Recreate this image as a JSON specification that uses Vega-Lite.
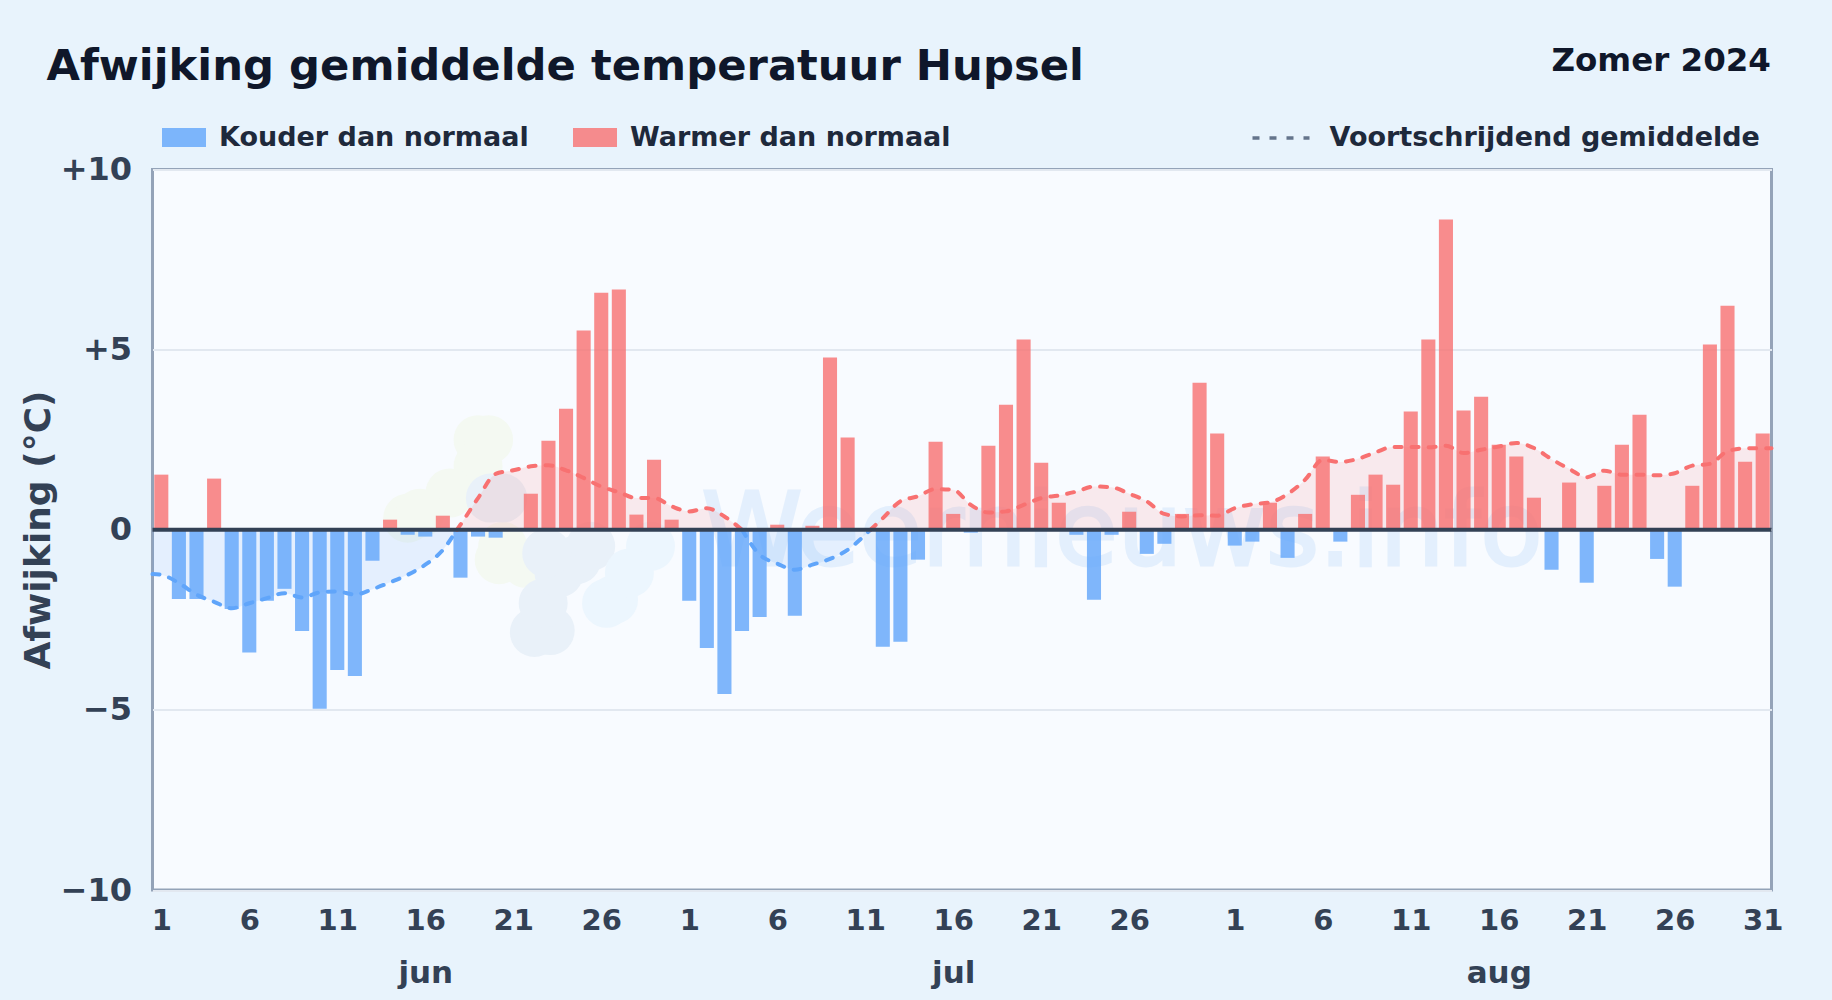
{"$schema":"https://vega.github.io/schema/vega-lite/v6.json","autosize":{"type":"none"},"padding":{"left":152.5,"top":169.5,"right":60.5,"bottom":110},"width":1619,"height":720.5,"background":"#e8f3fc","view":{"fill":"#f8fbff","stroke":"#94a3b8","strokeWidth":3},"config":{"font":"DejaVu Sans","axisY":{"labelFont":"DejaVu Sans","labelFontSize":32,"labelFontWeight":"bold","labelColor":"#334155","labelPadding":21,"ticks":false,"domain":false,"grid":true,"gridColor":"#e2e8f0","gridWidth":2,"titleFont":"DejaVu Sans","titleFontSize":36,"titleFontWeight":"bold","titleColor":"#334155","titleX":-114,"titleY":360,"titleAlign":"center","titleBaseline":"middle"},"legend":{"labelFont":"DejaVu Sans","labelFontSize":27,"labelFontWeight":"bold","labelColor":"#1e293b","labelLimit":700}},"title":{"text":"Afwijking gemiddelde temperatuur Hupsel","anchor":"start","frame":"group","dx":-106,"offset":-79,"baseline":"alphabetic","font":"DejaVu Sans","fontSize":43.3,"fontWeight":"bold","color":"#0f172a"},"datasets":{"days":[{"day":1,"date":"2024-06-01","value":1.53,"type":"Warmer dan normaal"},{"day":2,"date":"2024-06-02","value":-1.92,"type":"Kouder dan normaal"},{"day":3,"date":"2024-06-03","value":-1.92,"type":"Kouder dan normaal"},{"day":4,"date":"2024-06-04","value":1.42,"type":"Warmer dan normaal"},{"day":5,"date":"2024-06-05","value":-2.2,"type":"Kouder dan normaal"},{"day":6,"date":"2024-06-06","value":-3.41,"type":"Kouder dan normaal"},{"day":7,"date":"2024-06-07","value":-1.97,"type":"Kouder dan normaal"},{"day":8,"date":"2024-06-08","value":-1.64,"type":"Kouder dan normaal"},{"day":9,"date":"2024-06-09","value":-2.81,"type":"Kouder dan normaal"},{"day":10,"date":"2024-06-10","value":-4.97,"type":"Kouder dan normaal"},{"day":11,"date":"2024-06-11","value":-3.89,"type":"Kouder dan normaal"},{"day":12,"date":"2024-06-12","value":-4.06,"type":"Kouder dan normaal"},{"day":13,"date":"2024-06-13","value":-0.86,"type":"Kouder dan normaal"},{"day":14,"date":"2024-06-14","value":0.28,"type":"Warmer dan normaal"},{"day":15,"date":"2024-06-15","value":-0.14,"type":"Kouder dan normaal"},{"day":16,"date":"2024-06-16","value":-0.19,"type":"Kouder dan normaal"},{"day":17,"date":"2024-06-17","value":0.39,"type":"Warmer dan normaal"},{"day":18,"date":"2024-06-18","value":-1.33,"type":"Kouder dan normaal"},{"day":19,"date":"2024-06-19","value":-0.19,"type":"Kouder dan normaal"},{"day":20,"date":"2024-06-20","value":-0.22,"type":"Kouder dan normaal"},{"day":21,"date":"2024-06-21","value":0,"type":"Warmer dan normaal"},{"day":22,"date":"2024-06-22","value":1.0,"type":"Warmer dan normaal"},{"day":23,"date":"2024-06-23","value":2.47,"type":"Warmer dan normaal"},{"day":24,"date":"2024-06-24","value":3.36,"type":"Warmer dan normaal"},{"day":25,"date":"2024-06-25","value":5.53,"type":"Warmer dan normaal"},{"day":26,"date":"2024-06-26","value":6.58,"type":"Warmer dan normaal"},{"day":27,"date":"2024-06-27","value":6.67,"type":"Warmer dan normaal"},{"day":28,"date":"2024-06-28","value":0.42,"type":"Warmer dan normaal"},{"day":29,"date":"2024-06-29","value":1.94,"type":"Warmer dan normaal"},{"day":30,"date":"2024-06-30","value":0.28,"type":"Warmer dan normaal"},{"day":31,"date":"2024-07-01","value":-1.97,"type":"Kouder dan normaal"},{"day":32,"date":"2024-07-02","value":-3.28,"type":"Kouder dan normaal"},{"day":33,"date":"2024-07-03","value":-4.56,"type":"Kouder dan normaal"},{"day":34,"date":"2024-07-04","value":-2.81,"type":"Kouder dan normaal"},{"day":35,"date":"2024-07-05","value":-2.42,"type":"Kouder dan normaal"},{"day":36,"date":"2024-07-06","value":0.14,"type":"Warmer dan normaal"},{"day":37,"date":"2024-07-07","value":-2.39,"type":"Kouder dan normaal"},{"day":38,"date":"2024-07-08","value":0.11,"type":"Warmer dan normaal"},{"day":39,"date":"2024-07-09","value":4.78,"type":"Warmer dan normaal"},{"day":40,"date":"2024-07-10","value":2.56,"type":"Warmer dan normaal"},{"day":41,"date":"2024-07-11","value":0,"type":"Warmer dan normaal"},{"day":42,"date":"2024-07-12","value":-3.25,"type":"Kouder dan normaal"},{"day":43,"date":"2024-07-13","value":-3.11,"type":"Kouder dan normaal"},{"day":44,"date":"2024-07-14","value":-0.83,"type":"Kouder dan normaal"},{"day":45,"date":"2024-07-15","value":2.44,"type":"Warmer dan normaal"},{"day":46,"date":"2024-07-16","value":0.44,"type":"Warmer dan normaal"},{"day":47,"date":"2024-07-17","value":-0.08,"type":"Kouder dan normaal"},{"day":48,"date":"2024-07-18","value":2.33,"type":"Warmer dan normaal"},{"day":49,"date":"2024-07-19","value":3.47,"type":"Warmer dan normaal"},{"day":50,"date":"2024-07-20","value":5.28,"type":"Warmer dan normaal"},{"day":51,"date":"2024-07-21","value":1.86,"type":"Warmer dan normaal"},{"day":52,"date":"2024-07-22","value":0.75,"type":"Warmer dan normaal"},{"day":53,"date":"2024-07-23","value":-0.14,"type":"Kouder dan normaal"},{"day":54,"date":"2024-07-24","value":-1.94,"type":"Kouder dan normaal"},{"day":55,"date":"2024-07-25","value":-0.14,"type":"Kouder dan normaal"},{"day":56,"date":"2024-07-26","value":0.5,"type":"Warmer dan normaal"},{"day":57,"date":"2024-07-27","value":-0.67,"type":"Kouder dan normaal"},{"day":58,"date":"2024-07-28","value":-0.39,"type":"Kouder dan normaal"},{"day":59,"date":"2024-07-29","value":0.44,"type":"Warmer dan normaal"},{"day":60,"date":"2024-07-30","value":4.08,"type":"Warmer dan normaal"},{"day":61,"date":"2024-07-31","value":2.67,"type":"Warmer dan normaal"},{"day":62,"date":"2024-08-01","value":-0.44,"type":"Kouder dan normaal"},{"day":63,"date":"2024-08-02","value":-0.33,"type":"Kouder dan normaal"},{"day":64,"date":"2024-08-03","value":0.75,"type":"Warmer dan normaal"},{"day":65,"date":"2024-08-04","value":-0.78,"type":"Kouder dan normaal"},{"day":66,"date":"2024-08-05","value":0.44,"type":"Warmer dan normaal"},{"day":67,"date":"2024-08-06","value":2.03,"type":"Warmer dan normaal"},{"day":68,"date":"2024-08-07","value":-0.33,"type":"Kouder dan normaal"},{"day":69,"date":"2024-08-08","value":0.97,"type":"Warmer dan normaal"},{"day":70,"date":"2024-08-09","value":1.53,"type":"Warmer dan normaal"},{"day":71,"date":"2024-08-10","value":1.25,"type":"Warmer dan normaal"},{"day":72,"date":"2024-08-11","value":3.28,"type":"Warmer dan normaal"},{"day":73,"date":"2024-08-12","value":5.28,"type":"Warmer dan normaal"},{"day":74,"date":"2024-08-13","value":8.61,"type":"Warmer dan normaal"},{"day":75,"date":"2024-08-14","value":3.31,"type":"Warmer dan normaal"},{"day":76,"date":"2024-08-15","value":3.69,"type":"Warmer dan normaal"},{"day":77,"date":"2024-08-16","value":2.36,"type":"Warmer dan normaal"},{"day":78,"date":"2024-08-17","value":2.03,"type":"Warmer dan normaal"},{"day":79,"date":"2024-08-18","value":0.89,"type":"Warmer dan normaal"},{"day":80,"date":"2024-08-19","value":-1.11,"type":"Kouder dan normaal"},{"day":81,"date":"2024-08-20","value":1.31,"type":"Warmer dan normaal"},{"day":82,"date":"2024-08-21","value":-1.47,"type":"Kouder dan normaal"},{"day":83,"date":"2024-08-22","value":1.22,"type":"Warmer dan normaal"},{"day":84,"date":"2024-08-23","value":2.36,"type":"Warmer dan normaal"},{"day":85,"date":"2024-08-24","value":3.19,"type":"Warmer dan normaal"},{"day":86,"date":"2024-08-25","value":-0.81,"type":"Kouder dan normaal"},{"day":87,"date":"2024-08-26","value":-1.58,"type":"Kouder dan normaal"},{"day":88,"date":"2024-08-27","value":1.22,"type":"Warmer dan normaal"},{"day":89,"date":"2024-08-28","value":5.14,"type":"Warmer dan normaal"},{"day":90,"date":"2024-08-29","value":6.22,"type":"Warmer dan normaal"},{"day":91,"date":"2024-08-30","value":1.89,"type":"Warmer dan normaal"},{"day":92,"date":"2024-08-31","value":2.67,"type":"Warmer dan normaal"}],"ma":[{"seg":"a","type":"Kouder dan normaal","avg":"Voortschrijdend gemiddelde","day":0.5,"ma":-1.23},{"seg":"a","type":"Kouder dan normaal","avg":"Voortschrijdend gemiddelde","day":1,"ma":-1.25},{"seg":"a","type":"Kouder dan normaal","avg":"Voortschrijdend gemiddelde","day":2,"ma":-1.48},{"seg":"a","type":"Kouder dan normaal","avg":"Voortschrijdend gemiddelde","day":3,"ma":-1.8},{"seg":"a","type":"Kouder dan normaal","avg":"Voortschrijdend gemiddelde","day":4,"ma":-2.0},{"seg":"a","type":"Kouder dan normaal","avg":"Voortschrijdend gemiddelde","day":5,"ma":-2.18},{"seg":"a","type":"Kouder dan normaal","avg":"Voortschrijdend gemiddelde","day":6,"ma":-2.04},{"seg":"a","type":"Kouder dan normaal","avg":"Voortschrijdend gemiddelde","day":7,"ma":-1.9},{"seg":"a","type":"Kouder dan normaal","avg":"Voortschrijdend gemiddelde","day":8,"ma":-1.76},{"seg":"a","type":"Kouder dan normaal","avg":"Voortschrijdend gemiddelde","day":9,"ma":-1.88},{"seg":"a","type":"Kouder dan normaal","avg":"Voortschrijdend gemiddelde","day":10,"ma":-1.74},{"seg":"a","type":"Kouder dan normaal","avg":"Voortschrijdend gemiddelde","day":11,"ma":-1.71},{"seg":"a","type":"Kouder dan normaal","avg":"Voortschrijdend gemiddelde","day":12,"ma":-1.8},{"seg":"a","type":"Kouder dan normaal","avg":"Voortschrijdend gemiddelde","day":13,"ma":-1.65},{"seg":"a","type":"Kouder dan normaal","avg":"Voortschrijdend gemiddelde","day":14,"ma":-1.46},{"seg":"a","type":"Kouder dan normaal","avg":"Voortschrijdend gemiddelde","day":15,"ma":-1.25},{"seg":"a","type":"Kouder dan normaal","avg":"Voortschrijdend gemiddelde","day":16,"ma":-0.97},{"seg":"a","type":"Kouder dan normaal","avg":"Voortschrijdend gemiddelde","day":17,"ma":-0.56},{"seg":"a","type":"Kouder dan normaal","avg":"Voortschrijdend gemiddelde","day":17.8,"ma":0},{"seg":"b","type":"Warmer dan normaal","avg":"Voortschrijdend gemiddelde","day":17.8,"ma":0},{"seg":"b","type":"Warmer dan normaal","avg":"Voortschrijdend gemiddelde","day":18,"ma":0.14},{"seg":"b","type":"Warmer dan normaal","avg":"Voortschrijdend gemiddelde","day":19,"ma":0.88},{"seg":"b","type":"Warmer dan normaal","avg":"Voortschrijdend gemiddelde","day":20,"ma":1.55},{"seg":"b","type":"Warmer dan normaal","avg":"Voortschrijdend gemiddelde","day":21,"ma":1.65},{"seg":"b","type":"Warmer dan normaal","avg":"Voortschrijdend gemiddelde","day":22,"ma":1.76},{"seg":"b","type":"Warmer dan normaal","avg":"Voortschrijdend gemiddelde","day":23,"ma":1.79},{"seg":"b","type":"Warmer dan normaal","avg":"Voortschrijdend gemiddelde","day":24,"ma":1.65},{"seg":"b","type":"Warmer dan normaal","avg":"Voortschrijdend gemiddelde","day":25,"ma":1.44},{"seg":"b","type":"Warmer dan normaal","avg":"Voortschrijdend gemiddelde","day":26,"ma":1.2},{"seg":"b","type":"Warmer dan normaal","avg":"Voortschrijdend gemiddelde","day":27,"ma":1.04},{"seg":"b","type":"Warmer dan normaal","avg":"Voortschrijdend gemiddelde","day":28,"ma":0.88},{"seg":"b","type":"Warmer dan normaal","avg":"Voortschrijdend gemiddelde","day":29,"ma":0.88},{"seg":"b","type":"Warmer dan normaal","avg":"Voortschrijdend gemiddelde","day":30,"ma":0.65},{"seg":"b","type":"Warmer dan normaal","avg":"Voortschrijdend gemiddelde","day":31,"ma":0.51},{"seg":"b","type":"Warmer dan normaal","avg":"Voortschrijdend gemiddelde","day":32,"ma":0.6},{"seg":"b","type":"Warmer dan normaal","avg":"Voortschrijdend gemiddelde","day":33,"ma":0.37},{"seg":"b","type":"Warmer dan normaal","avg":"Voortschrijdend gemiddelde","day":34,"ma":0},{"seg":"c","type":"Kouder dan normaal","avg":"Voortschrijdend gemiddelde","day":34,"ma":0},{"seg":"c","type":"Kouder dan normaal","avg":"Voortschrijdend gemiddelde","day":35,"ma":-0.69},{"seg":"c","type":"Kouder dan normaal","avg":"Voortschrijdend gemiddelde","day":36,"ma":-0.94},{"seg":"c","type":"Kouder dan normaal","avg":"Voortschrijdend gemiddelde","day":37,"ma":-1.11},{"seg":"c","type":"Kouder dan normaal","avg":"Voortschrijdend gemiddelde","day":38,"ma":-0.97},{"seg":"c","type":"Kouder dan normaal","avg":"Voortschrijdend gemiddelde","day":39,"ma":-0.81},{"seg":"c","type":"Kouder dan normaal","avg":"Voortschrijdend gemiddelde","day":40,"ma":-0.56},{"seg":"c","type":"Kouder dan normaal","avg":"Voortschrijdend gemiddelde","day":41,"ma":-0.14},{"seg":"c","type":"Kouder dan normaal","avg":"Voortschrijdend gemiddelde","day":41.3,"ma":0},{"seg":"d","type":"Warmer dan normaal","avg":"Voortschrijdend gemiddelde","day":41.3,"ma":0},{"seg":"d","type":"Warmer dan normaal","avg":"Voortschrijdend gemiddelde","day":42,"ma":0.32},{"seg":"d","type":"Warmer dan normaal","avg":"Voortschrijdend gemiddelde","day":43,"ma":0.79},{"seg":"d","type":"Warmer dan normaal","avg":"Voortschrijdend gemiddelde","day":44,"ma":0.93},{"seg":"d","type":"Warmer dan normaal","avg":"Voortschrijdend gemiddelde","day":45,"ma":1.13},{"seg":"d","type":"Warmer dan normaal","avg":"Voortschrijdend gemiddelde","day":46,"ma":1.11},{"seg":"d","type":"Warmer dan normaal","avg":"Voortschrijdend gemiddelde","day":47,"ma":0.69},{"seg":"d","type":"Warmer dan normaal","avg":"Voortschrijdend gemiddelde","day":48,"ma":0.48},{"seg":"d","type":"Warmer dan normaal","avg":"Voortschrijdend gemiddelde","day":49,"ma":0.51},{"seg":"d","type":"Warmer dan normaal","avg":"Voortschrijdend gemiddelde","day":50,"ma":0.69},{"seg":"d","type":"Warmer dan normaal","avg":"Voortschrijdend gemiddelde","day":51,"ma":0.88},{"seg":"d","type":"Warmer dan normaal","avg":"Voortschrijdend gemiddelde","day":52,"ma":0.95},{"seg":"d","type":"Warmer dan normaal","avg":"Voortschrijdend gemiddelde","day":53,"ma":1.06},{"seg":"d","type":"Warmer dan normaal","avg":"Voortschrijdend gemiddelde","day":54,"ma":1.2},{"seg":"d","type":"Warmer dan normaal","avg":"Voortschrijdend gemiddelde","day":55,"ma":1.18},{"seg":"d","type":"Warmer dan normaal","avg":"Voortschrijdend gemiddelde","day":56,"ma":1.0},{"seg":"d","type":"Warmer dan normaal","avg":"Voortschrijdend gemiddelde","day":57,"ma":0.79},{"seg":"d","type":"Warmer dan normaal","avg":"Voortschrijdend gemiddelde","day":58,"ma":0.44},{"seg":"d","type":"Warmer dan normaal","avg":"Voortschrijdend gemiddelde","day":59,"ma":0.37},{"seg":"d","type":"Warmer dan normaal","avg":"Voortschrijdend gemiddelde","day":60,"ma":0.4},{"seg":"d","type":"Warmer dan normaal","avg":"Voortschrijdend gemiddelde","day":61,"ma":0.39},{"seg":"d","type":"Warmer dan normaal","avg":"Voortschrijdend gemiddelde","day":62,"ma":0.6},{"seg":"d","type":"Warmer dan normaal","avg":"Voortschrijdend gemiddelde","day":63,"ma":0.71},{"seg":"d","type":"Warmer dan normaal","avg":"Voortschrijdend gemiddelde","day":64,"ma":0.76},{"seg":"d","type":"Warmer dan normaal","avg":"Voortschrijdend gemiddelde","day":65,"ma":0.99},{"seg":"d","type":"Warmer dan normaal","avg":"Voortschrijdend gemiddelde","day":66,"ma":1.39},{"seg":"d","type":"Warmer dan normaal","avg":"Voortschrijdend gemiddelde","day":67,"ma":1.94},{"seg":"d","type":"Warmer dan normaal","avg":"Voortschrijdend gemiddelde","day":68,"ma":1.88},{"seg":"d","type":"Warmer dan normaal","avg":"Voortschrijdend gemiddelde","day":69,"ma":1.97},{"seg":"d","type":"Warmer dan normaal","avg":"Voortschrijdend gemiddelde","day":70,"ma":2.15},{"seg":"d","type":"Warmer dan normaal","avg":"Voortschrijdend gemiddelde","day":71,"ma":2.3},{"seg":"d","type":"Warmer dan normaal","avg":"Voortschrijdend gemiddelde","day":72,"ma":2.3},{"seg":"d","type":"Warmer dan normaal","avg":"Voortschrijdend gemiddelde","day":73,"ma":2.29},{"seg":"d","type":"Warmer dan normaal","avg":"Voortschrijdend gemiddelde","day":74,"ma":2.33},{"seg":"d","type":"Warmer dan normaal","avg":"Voortschrijdend gemiddelde","day":75,"ma":2.13},{"seg":"d","type":"Warmer dan normaal","avg":"Voortschrijdend gemiddelde","day":76,"ma":2.22},{"seg":"d","type":"Warmer dan normaal","avg":"Voortschrijdend gemiddelde","day":77,"ma":2.31},{"seg":"d","type":"Warmer dan normaal","avg":"Voortschrijdend gemiddelde","day":78,"ma":2.41},{"seg":"d","type":"Warmer dan normaal","avg":"Voortschrijdend gemiddelde","day":79,"ma":2.27},{"seg":"d","type":"Warmer dan normaal","avg":"Voortschrijdend gemiddelde","day":80,"ma":1.96},{"seg":"d","type":"Warmer dan normaal","avg":"Voortschrijdend gemiddelde","day":81,"ma":1.69},{"seg":"d","type":"Warmer dan normaal","avg":"Voortschrijdend gemiddelde","day":82,"ma":1.46},{"seg":"d","type":"Warmer dan normaal","avg":"Voortschrijdend gemiddelde","day":83,"ma":1.64},{"seg":"d","type":"Warmer dan normaal","avg":"Voortschrijdend gemiddelde","day":84,"ma":1.53},{"seg":"d","type":"Warmer dan normaal","avg":"Voortschrijdend gemiddelde","day":85,"ma":1.53},{"seg":"d","type":"Warmer dan normaal","avg":"Voortschrijdend gemiddelde","day":86,"ma":1.51},{"seg":"d","type":"Warmer dan normaal","avg":"Voortschrijdend gemiddelde","day":87,"ma":1.57},{"seg":"d","type":"Warmer dan normaal","avg":"Voortschrijdend gemiddelde","day":88,"ma":1.78},{"seg":"d","type":"Warmer dan normaal","avg":"Voortschrijdend gemiddelde","day":89,"ma":1.83},{"seg":"d","type":"Warmer dan normaal","avg":"Voortschrijdend gemiddelde","day":90,"ma":2.18},{"seg":"d","type":"Warmer dan normaal","avg":"Voortschrijdend gemiddelde","day":91,"ma":2.26},{"seg":"d","type":"Warmer dan normaal","avg":"Voortschrijdend gemiddelde","day":92,"ma":2.26},{"seg":"d","type":"Warmer dan normaal","avg":"Voortschrijdend gemiddelde","day":92.5,"ma":2.26}],"logo":[{"day":19.0,"v":2.5,"blob":"groen"},{"day":19.6,"v":2.5,"blob":"groen"},{"day":19.0,"v":1.76,"blob":"groen"},{"day":17.4,"v":1.02,"blob":"groen"},{"day":15.0,"v":0.32,"blob":"groen"},{"day":15.7,"v":0.46,"blob":"groen"},{"day":20.2,"v":-0.83,"blob":"groen"},{"day":21.7,"v":-0.93,"blob":"groen"},{"day":20.4,"v":-0.46,"blob":"groen"},{"day":19.7,"v":0.88,"blob":"grijs"},{"day":20.4,"v":0.88,"blob":"grijs"},{"day":22.2,"v":-2.85,"blob":"grijs"},{"day":23.1,"v":-2.8,"blob":"grijs"},{"day":22.7,"v":-2.04,"blob":"grijs"},{"day":24.6,"v":-0.83,"blob":"grijs"},{"day":25.4,"v":-0.46,"blob":"grijs"},{"day":23.6,"v":-1.2,"blob":"grijs"},{"day":22.9,"v":-0.65,"blob":"grijs"},{"day":26.3,"v":-2.04,"blob":"licht"},{"day":26.7,"v":-1.94,"blob":"licht"},{"day":28.8,"v":-0.46,"blob":"licht"},{"day":27.6,"v":-1.2,"blob":"licht"}],"merk":[{"day":55.6,"v":-0.97,"tekst":"Weernieuws.info"}],"nul":[{"v":0}]},"resolve":{"axis":{"x":"independent"}},"layer":[{"data":{"name":"logo"},"mark":{"type":"circle","size":2400,"opacity":1},"encoding":{"x":{"field":"day","type":"quantitative","scale":{"domain":[0.5,92.5],"nice":false,"zero":false,"padding":0},"axis":{"orient":"top","labels":false,"ticks":false,"domain":false,"grid":false,"title":"Zomer 2024","titleFont":"DejaVu Sans","titleFontSize":32.5,"titleFontWeight":"bold","titleColor":"#0f172a","titleAnchor":"end","titleAlign":"right","titleBaseline":"alphabetic","titleX":1618,"titleY":-99}},"y":{"field":"v","type":"quantitative","scale":{"domain":[-10,10],"nice":false},"axis":{"values":[-10,-5,0,5,10],"labelExpr":"datum.value>0?'+'+datum.value:datum.value<0?'−'+abs(datum.value):'0'","title":"Afwijking (°C)"}},"fill":{"field":"blob","type":"nominal","scale":{"domain":["groen","grijs","licht"],"range":["#f4f9f2","#e9f1f9","#ecf6fe"]},"legend":null}}},{"data":{"name":"merk"},"mark":{"type":"text","font":"DejaVu Sans","fontSize":102,"fontWeight":"normal","color":"#60a5f0","stroke":"#60a5f0","strokeWidth":3,"opacity":0.13,"baseline":"alphabetic","align":"center"},"encoding":{"x":{"field":"day","type":"quantitative","scale":{"domain":[0.5,92.5],"nice":false,"zero":false,"padding":0},"axis":null},"y":{"field":"v","type":"quantitative","scale":{"domain":[-10,10],"nice":false},"axis":{"values":[-10,-5,0,5,10],"labelExpr":"datum.value>0?'+'+datum.value:datum.value<0?'−'+abs(datum.value):'0'","title":"Afwijking (°C)"}},"text":{"field":"tekst","type":"nominal"}}},{"data":{"name":"ma"},"mark":{"type":"area","interpolate":"monotone","opacity":0.13},"encoding":{"x":{"field":"day","type":"quantitative","scale":{"domain":[0.5,92.5],"nice":false,"zero":false,"padding":0},"axis":{"values":[16,46,77],"labelExpr":"datum.value==16?'jun':datum.value==46?'jul':'aug'","labelFont":"DejaVu Sans","labelFontSize":31,"labelFontWeight":"bold","labelColor":"#334155","labelPadding":68,"ticks":false,"domain":false,"grid":false,"title":null,"labelOverlap":false,"labelFlush":false}},"y":{"field":"ma","type":"quantitative","scale":{"domain":[-10,10],"nice":false},"axis":{"values":[-10,-5,0,5,10],"labelExpr":"datum.value>0?'+'+datum.value:datum.value<0?'−'+abs(datum.value):'0'","title":"Afwijking (°C)"}},"y2":{"datum":0},"detail":{"field":"seg"},"color":{"field":"type","type":"nominal","scale":{"domain":["Kouder dan normaal","Warmer dan normaal"],"range":["#60a5fa","#f87171"]},"legend":{"title":null,"orient":"none","direction":"horizontal","columns":2,"legendX":9.5,"legendY":-54,"symbolType":"M-1,-0.43H1V0.43H-1Z","symbolSize":1936,"symbolOpacity":0.8,"symbolStrokeWidth":0,"labelOffset":13,"columnPadding":44}}}},{"data":{"name":"days"},"mark":{"type":"bar","orient":"vertical","width":14.08,"opacity":0.8},"encoding":{"x":{"field":"day","type":"quantitative","scale":{"domain":[0.5,92.5],"nice":false,"zero":false,"padding":0},"axis":{"values":[1,6,11,16,21,26,31,36,41,46,51,56,62,67,72,77,82,87,92],"labelExpr":"datum.value<=30?datum.value:datum.value<=61?datum.value-30:datum.value-61","labelFont":"DejaVu Sans","labelFontSize":29,"labelFontWeight":"bold","labelColor":"#334155","labelPadding":16,"ticks":false,"domain":false,"grid":false,"title":null,"labelOverlap":false,"labelFlush":false}},"y":{"field":"value","type":"quantitative","scale":{"domain":[-10,10],"nice":false},"axis":{"values":[-10,-5,0,5,10],"labelExpr":"datum.value>0?'+'+datum.value:datum.value<0?'−'+abs(datum.value):'0'","title":"Afwijking (°C)"}},"y2":{"datum":0},"color":{"field":"type","type":"nominal","scale":{"domain":["Kouder dan normaal","Warmer dan normaal"],"range":["#60a5fa","#f87171"]},"legend":{"title":null,"orient":"none","direction":"horizontal","columns":2,"legendX":9.5,"legendY":-54,"symbolType":"M-1,-0.43H1V0.43H-1Z","symbolSize":1936,"symbolOpacity":0.8,"symbolStrokeWidth":0,"labelOffset":13,"columnPadding":44}}}},{"data":{"name":"ma"},"mark":{"type":"line","interpolate":"monotone","strokeWidth":4,"strokeCap":"round","opacity":1},"encoding":{"x":{"field":"day","type":"quantitative","scale":{"domain":[0.5,92.5],"nice":false,"zero":false,"padding":0},"axis":null},"y":{"field":"ma","type":"quantitative","scale":{"domain":[-10,10],"nice":false},"axis":{"values":[-10,-5,0,5,10],"labelExpr":"datum.value>0?'+'+datum.value:datum.value<0?'−'+abs(datum.value):'0'","title":"Afwijking (°C)"}},"detail":{"field":"seg"},"color":{"field":"type","type":"nominal","scale":{"domain":["Kouder dan normaal","Warmer dan normaal"],"range":["#60a5fa","#f87171"]},"legend":{"title":null,"orient":"none","direction":"horizontal","columns":2,"legendX":9.5,"legendY":-54,"symbolType":"M-1,-0.43H1V0.43H-1Z","symbolSize":1936,"symbolOpacity":0.8,"symbolStrokeWidth":0,"labelOffset":13,"columnPadding":44}},"strokeDash":{"field":"avg","type":"nominal","scale":{"domain":["Voortschrijdend gemiddelde"],"range":[[7,10]]},"legend":{"title":null,"orient":"none","legendX":1098,"legendY":-62,"symbolType":"stroke","symbolSize":3250,"symbolStrokeWidth":3.5,"symbolStrokeColor":"#64748b","labelOffset":18,"encode":{"symbols":{"update":{"strokeDash":{"value":[6.5,10]},"stroke":{"value":"#64748b"}}}}}}}},{"data":{"name":"nul"},"mark":{"type":"rule","color":"#334155","strokeWidth":4},"encoding":{"y":{"field":"v","type":"quantitative","scale":{"domain":[-10,10],"nice":false},"axis":{"values":[-10,-5,0,5,10],"labelExpr":"datum.value>0?'+'+datum.value:datum.value<0?'−'+abs(datum.value):'0'","title":"Afwijking (°C)"}}}}]}
